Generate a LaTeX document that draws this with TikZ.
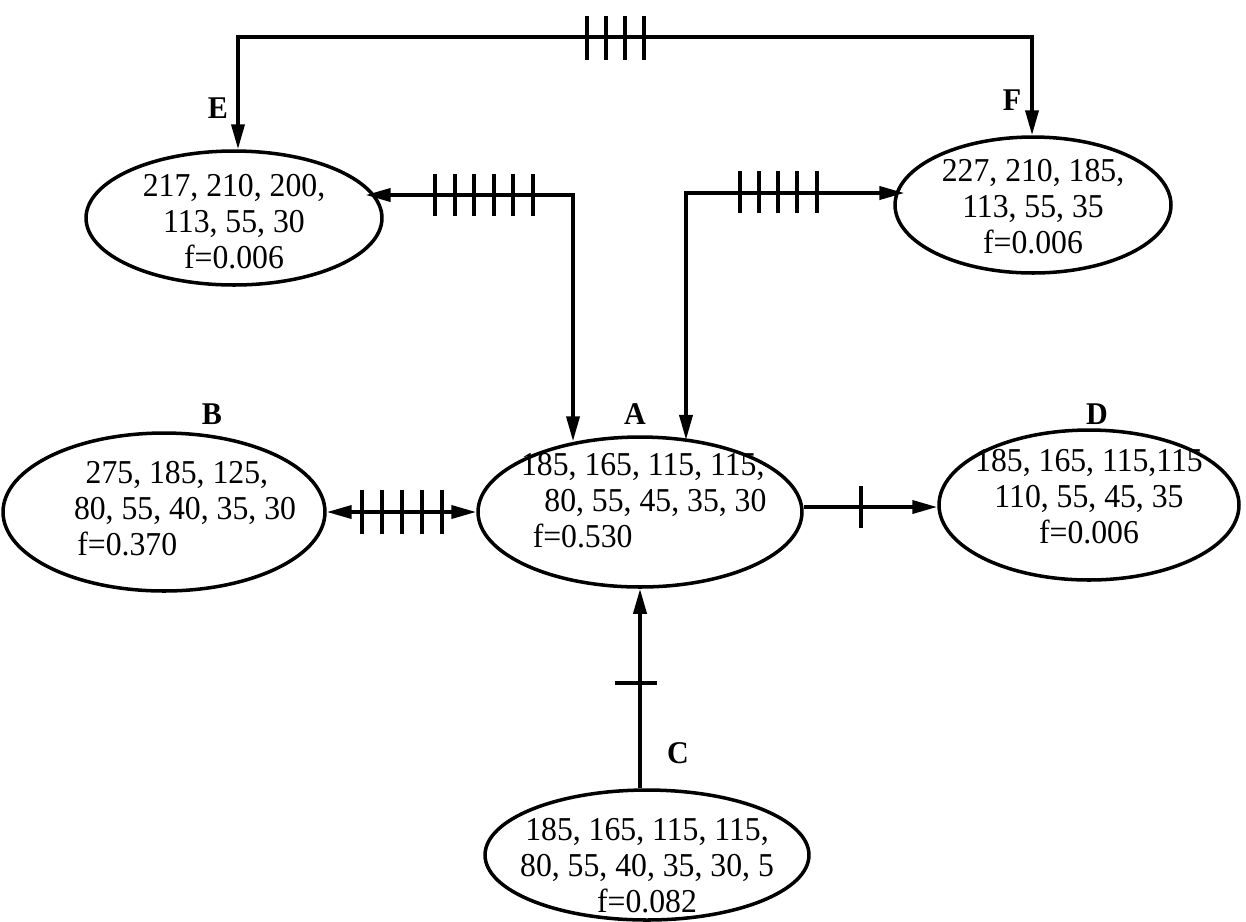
\documentclass[tikz,border=0pt]{standalone}
\usepackage{fontspec}
\setmainfont{Liberation Serif}[FakeStretch=0.95]
\usetikzlibrary{arrows.meta,shapes.geometric,calc}
% #1 horizontal shift (x2), #2 vertical raise, #3 column alignment, #4 lines
\newcommand{\stxt}[4]{\smash{\raisebox{#2}{\makebox[0pt][c]{\hspace*{#1}\begin{tabular}{@{}#3@{}}#4\end{tabular}}}}}
\begin{document}
\begin{tikzpicture}[x=0.02cm,y=-0.02cm,
  st/.style={draw,ellipse,line width=2pt,inner sep=0pt,
    font=\fontsize{19}{20.5}\selectfont},
  lab/.style={font=\fontsize{18}{19}\selectfont\bfseries},
  cline/.style={line width=2.1pt},
  oneway/.style={-{Triangle[length=0.5cm,width=0.26cm]}},
  twoway/.style={{Triangle[length=0.5cm,width=0.26cm]}-{Triangle[length=0.5cm,width=0.26cm]}},
  tk/.style={line width=2.4pt}]
\useasboundingbox (0,0) rectangle (1246,921);
% states
\node[st,minimum width=5.92cm,minimum height=2.68cm] (E) at (234,218) {\stxt{0pt}{-0.3cm}{c}{217, 210, 200,\\113, 55, 30\\f=0.006}};
\node[st,minimum width=5.52cm,minimum height=2.72cm] (F) at (1033,205) {\stxt{0pt}{-0.26cm}{c}{227, 210, 185,\\113, 55, 35\\f=0.006}};
\node[st,minimum width=6.44cm,minimum height=3.16cm] (B) at (164,512) {\stxt{0.84cm}{-0.16cm}{l}{\hspace*{0.35em}275, 185, 125,\\80, 55, 40, 35, 30\\\hspace*{0.1em}f=0.370}};
\node[st,minimum width=6.48cm,minimum height=3.0cm] (A) at (640,512) {\stxt{0.15cm}{0cm}{l}{185, 165, 115, 115,\\\hspace*{0.7em}80, 55, 45, 35, 30\\\hspace*{0.35em}f=0.530}};
\node[st,minimum width=6.0cm,minimum height=3.0cm] (D) at (1089,505) {\stxt{0pt}{-0.06cm}{c}{185, 165, 115,115\\110, 55, 45, 35\\f=0.006}};
\node[st,minimum width=6.48cm,minimum height=2.6cm] (C) at (647,855) {\stxt{0pt}{-0.44cm}{c}{185, 165, 115, 115,\\80, 55, 40, 35, 30, 5\\f=0.082}};
% labels
\node[lab] (lE) at (218,108) {E};
\node[lab] (lF) at (1012,100) {F};
\node[lab] (lB) at (212,414) {B};
\node[lab] (lA) at (635,414) {A};
\node[lab] (lD) at (1097,414) {D};
\node[lab] (lC) at (678,753) {C};
% corners
\coordinate (tl) at (238,37);
\coordinate (tr) at (1032,37);
\coordinate (ea) at (573,195);
\coordinate (fa) at (686,193);
% connectors
\draw[cline,twoway] (tl |- E.north) -- (tl) -- (tr) -- (tr |- F.north);
\draw[cline,twoway] (E.14 |- ea) -- (ea) -- (A.132 -| ea);
\draw[cline,twoway] (F.168 |- fa) -- (fa) -- (A.52 -| fa);
\draw[cline,twoway] (B.east |- 0,512) -- (A.west |- 0,512);
\draw[cline,oneway] (A.east |- 0,507) -- (D.west |- 0,507);
\draw[cline,oneway] (C.north -| 640,0) -- (A.south -| 640,0);
% ticks
\foreach \x in {587,606,625,644} \draw[tk] (\x,16) -- (\x,60);
\foreach \x in {435,455,474,494,513,533} \draw[tk] (\x,174) -- (\x,216);
\foreach \x in {740,759,778,797,817} \draw[tk] (\x,171) -- (\x,213);
\foreach \x in {362,382,402,422,442} \draw[tk] (\x,490) -- (\x,534);
\draw[tk] (861,486) -- (861,528);
\draw[tk] (615,683) -- (657,683);
\end{tikzpicture}
\end{document}
